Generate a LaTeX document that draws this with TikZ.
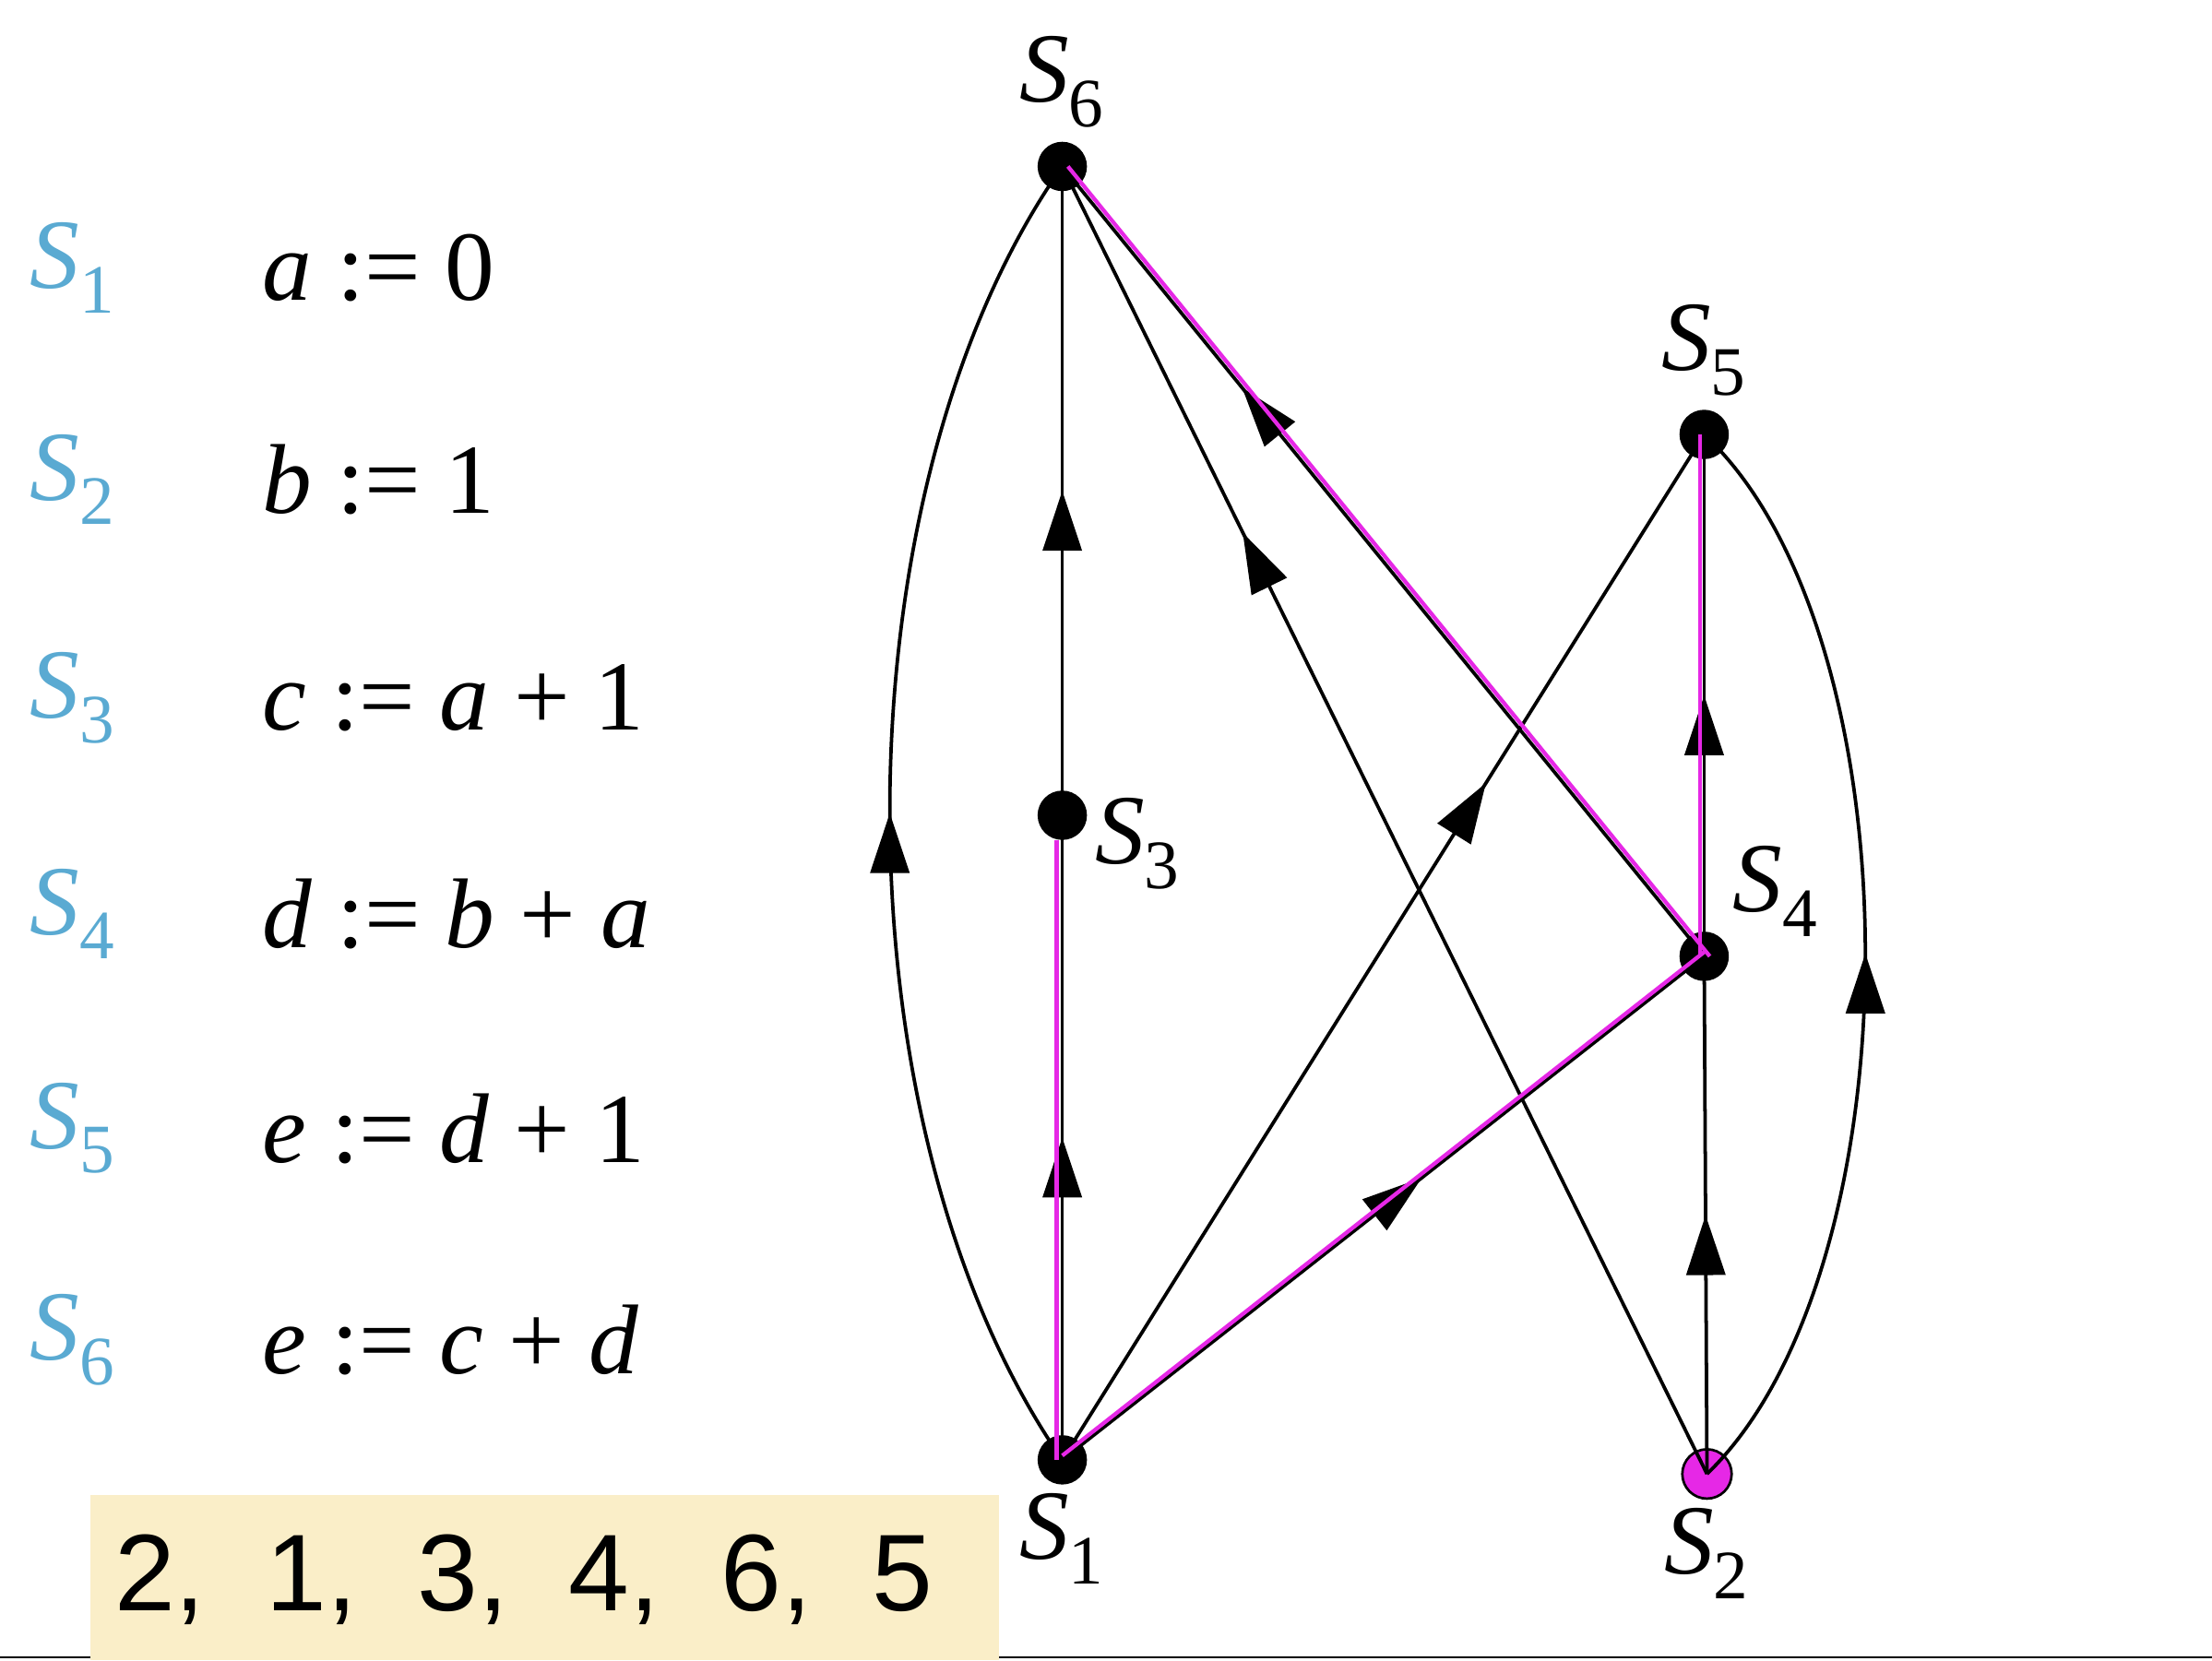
\documentclass[tikz,border=0pt]{standalone}
\usepackage{fontspec}
\setmainfont{Liberation Serif}
\newfontfamily\sansf{Liberation Sans}
\usetikzlibrary{decorations.markings,arrows.meta}
\definecolor{lblue}{RGB}{90,170,210}
\definecolor{beige}{RGB}{250,238,200}
\definecolor{mag}{RGB}{230,40,230}
\newcommand{\iv}[1]{\textit{#1}}
\tikzset{
 dot/.style={circle,fill=black,inner sep=0pt,minimum size=0.7cm},
 edge/.style={line width=1.4pt,postaction={decorate},decoration={markings,mark=at position #1 with {\arrow{Triangle[length=0.85cm,width=0.55cm]}}}},
 edge/.default=0.5,
 mline/.style={mag,line width=1.6pt},
 lab/.style={font=\fontsize{40}{48}\selectfont\itshape},
 stmt/.style={font=\fontsize{40}{48}\selectfont},
}
\begin{document}
\begin{tikzpicture}[x=0.02cm,y=-0.02cm]
\useasboundingbox (0,0) rectangle (1568,1177);
\fill[white] (0,0) rectangle (1568,1177);
\draw[line width=1pt] (0,1175)--(1568,1175);
\fill[beige] (64,1060) rectangle (708,1177);
\node[font=\sansf\fontsize{44}{50}\selectfont,anchor=west] (seq) at (75,1120) {2,\ \ 1,\ \ 3,\ \ 4,\ \ 6,\ \ 5};
\foreach \i/\y/\t in {1/190/{\iv{a} := 0},2/340/{\iv{b} := 1},3/495/{\iv{c} := \iv{a} + 1},4/648/{\iv{d} := \iv{b} + \iv{a}},5/800/{\iv{e} := \iv{d} + 1},6/950/{\iv{e} := \iv{c} + \iv{d}}}{
 \node[lab,lblue,anchor=west] (L\i) at (15,\y) {S\textsubscript{\upshape\i}};
 \node[stmt,anchor=west] (T\i) at (180,\y) {\t};
}
\node[dot] (s6) at (753,118) {};
\node[dot] (s3) at (753,578) {};
\node[dot] (s1) at (753,1035) {};
\node[dot] (s5) at (1208,308) {};
\node[dot] (s4) at (1208,678) {};
\node[circle,fill=mag,draw=black,line width=1pt,inner sep=0pt,minimum size=0.7cm] (s2) at (1210,1045) {};
\node[lab,above=2pt] at (s6.north) {S\textsubscript{\upshape 6}};
\node[lab,above=2pt] at (s5.north) {S\textsubscript{\upshape 5}};
\node[lab,anchor=west] at (770,598) {S\textsubscript{\upshape 3}};
\node[lab,anchor=west] at (1222,632) {S\textsubscript{\upshape 4}};
\node[lab,below=0pt] at (s1.south) {S\textsubscript{\upshape 1}};
\node[lab,below=0pt] at (s2.south) {S\textsubscript{\upshape 2}};
\draw[edge] (s1.center) .. controls (590,800) and (590,350) .. (s6.center);
\draw[edge] (s1.center) -- (s3.center);
\draw[edge] (s3.center) -- (s6.center);
\draw[edge=0.72] (s2.center) -- (s6.center);
\draw[edge=0.66] (s1.center) -- (s5.center);
\draw[edge=0.56] (s1.center) -- (s4.center);
\draw[edge=0.72] (s4.center) -- (s6.center);
\draw[edge] (s4.center) -- (s5.center);
\draw[edge] (s2.center) -- (s4.center);
\draw[edge] (s2.center) .. controls (1360,900) and (1360,450) .. (s5.center);
\draw[mline] ([xshift=-0.08cm]s1.center) -- ([xshift=-0.08cm]s3.south);
\draw[mline] ([yshift=0.06cm]s1.center) -- ([yshift=0.06cm]s4.center);
\draw[mline] ([xshift=0.08cm]s4.center) -- ([xshift=0.08cm]s6.center);
\draw[mline] ([xshift=-0.06cm]s4.center) -- ([xshift=-0.06cm]s5.center);
\end{tikzpicture}
\end{document}
